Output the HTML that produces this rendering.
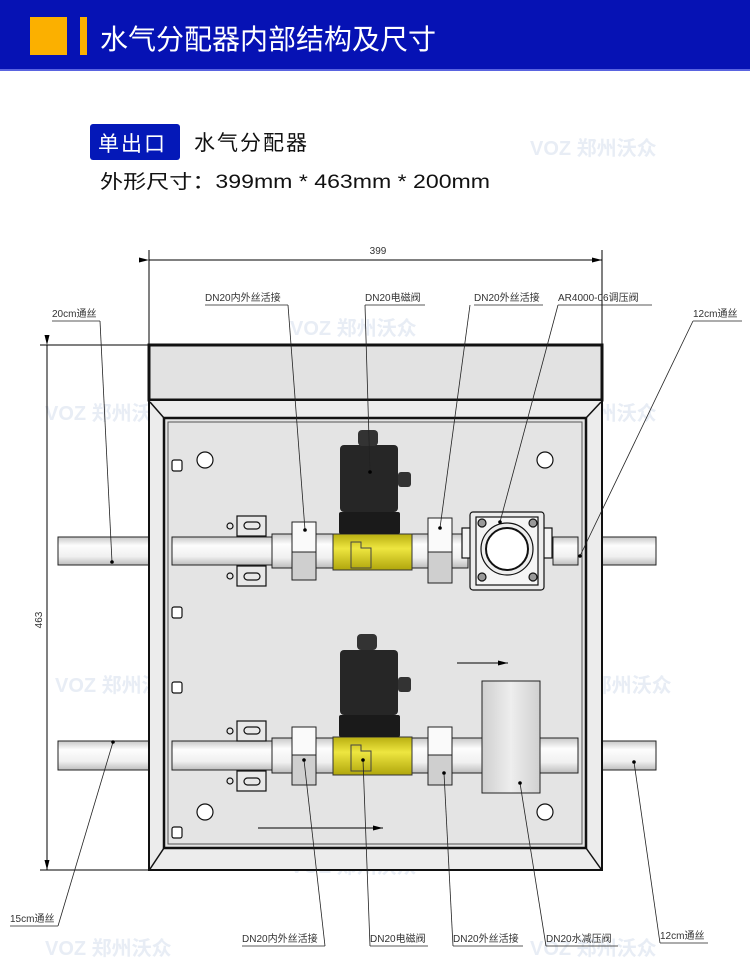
<!DOCTYPE html>
<html><head><meta charset="utf-8"><style>
html,body{margin:0;padding:0;background:#fff;width:750px;height:974px;overflow:hidden}
svg{display:block}
text{font-family:"Liberation Sans","Noto Sans CJK SC",sans-serif}
.lb{font-size:10px;fill:#333}
</style></head><body>
<svg width="750" height="974" viewBox="0 0 750 974" xmlns="http://www.w3.org/2000/svg">
<defs>
<linearGradient id="pipe" x1="0" y1="0" x2="0" y2="1"><stop offset="0" stop-color="#c8c8c8"/><stop offset="0.3" stop-color="#fdfdfd"/><stop offset="0.7" stop-color="#f0f0f0"/><stop offset="1" stop-color="#bdbdbd"/></linearGradient>
<linearGradient id="brass" x1="0" y1="0" x2="0" y2="1"><stop offset="0" stop-color="#b8ae10"/><stop offset="0.4" stop-color="#eee640"/><stop offset="1" stop-color="#b0a60c"/></linearGradient>
<linearGradient id="tee" x1="0" y1="0" x2="1" y2="0"><stop offset="0" stop-color="#cfcfcf"/><stop offset="0.5" stop-color="#eeeeee"/><stop offset="1" stop-color="#d0d0d0"/></linearGradient>
<marker id="ar" markerWidth="10" markerHeight="6" refX="10" refY="3" orient="auto"><path d="M0,0.5 L10,3 L0,5.5z" fill="#000"/></marker>
</defs>
<!-- header -->
<rect x="0" y="0" width="750" height="70" fill="#0612b4"/>
<rect x="0" y="69" width="750" height="2" fill="#5a64e0"/>
<rect x="30" y="17" width="37" height="38" fill="#fbb000"/>
<rect x="80" y="17" width="7" height="38" fill="#fbb000"/>
<text x="100" y="49" font-size="28" fill="#fff">水气分配器内部结构及尺寸</text>
<!-- watermarks -->
<g fill="#e8edf5" font-size="20" font-weight="bold">
<text x="530" y="155">VOZ 郑州沃众</text>
<text x="290" y="335">VOZ 郑州沃众</text><text x="45" y="420">VOZ 郑州沃众</text><text x="530" y="420">VOZ 郑州沃众</text>
<text x="55" y="692">VOZ 郑州沃众</text><text x="545" y="692">VOZ 郑州沃众</text>
<text x="290" y="873">VOZ 郑州沃众</text><text x="45" y="955">VOZ 郑州沃众</text><text x="530" y="955">VOZ 郑州沃众</text>
</g>
<!-- subtitle -->
<rect x="90" y="124" width="90" height="36" rx="3" fill="#0418b8"/>
<text x="98" y="151" font-size="21" fill="#fff" letter-spacing="2">单出口</text>
<text x="194" y="150" font-size="21" fill="#111" letter-spacing="2">水气分配器</text>
<text x="100" y="188" font-size="19" fill="#111" textLength="390" lengthAdjust="spacingAndGlyphs">外形尺寸：399mm * 463mm * 200mm</text>
<!-- dimensions -->
<g stroke="#000" stroke-width="1" fill="none">
<line x1="149" y1="250" x2="149" y2="345"/><line x1="602" y1="250" x2="602" y2="345"/>
<line x1="149" y1="260" x2="602" y2="260" marker-start="url(#ar)" marker-end="url(#ar)"/>
<line x1="40" y1="345" x2="149" y2="345"/><line x1="40" y1="870" x2="149" y2="870"/>
<line x1="47" y1="345" x2="47" y2="870" marker-start="url(#ar)" marker-end="url(#ar)"/>
</g>
<text x="378" y="254" font-size="10" fill="#333" text-anchor="middle">399</text>
<text x="42" y="620" font-size="10" fill="#333" text-anchor="middle" transform="rotate(-90 42 620)">463</text>
<!-- outside pipes -->
<g stroke="#222" stroke-width="1" fill="url(#pipe)">
<rect x="58" y="537" width="92" height="28"/><rect x="600" y="537" width="56" height="28"/>
<rect x="58" y="741" width="92" height="29"/><rect x="600" y="741" width="56" height="29"/>
</g>
<!-- box -->
<rect x="149" y="345" width="453" height="55" fill="#e2e2e2" stroke="#111" stroke-width="3"/>
<rect x="149" y="400" width="453" height="470" fill="#ececec" stroke="#111" stroke-width="2"/>
<rect x="164" y="418" width="422" height="430" fill="#e4e4e4" stroke="#111" stroke-width="2.5"/>
<rect x="168" y="422" width="414" height="422" fill="none" stroke="#555" stroke-width="1"/>
<g stroke="#111" stroke-width="1.5"><line x1="150" y1="402" x2="164" y2="418"/><line x1="601" y1="402" x2="586" y2="418"/><line x1="150" y1="869" x2="164" y2="848"/><line x1="601" y1="869" x2="586" y2="848"/></g>
<!-- holes -->
<g fill="#fff" stroke="#111" stroke-width="1.2"><circle cx="205" cy="460" r="8"/><circle cx="545" cy="460" r="8"/><circle cx="205" cy="812" r="8"/><circle cx="545" cy="812" r="8"/></g>
<!-- small tabs -->
<g fill="#fff" stroke="#111" stroke-width="1.2">
<rect x="172" y="460" width="10" height="11" rx="2"/><rect x="172" y="607" width="10" height="11" rx="2"/><rect x="172" y="682" width="10" height="11" rx="2"/><rect x="172" y="827" width="10" height="11" rx="2"/>
</g>
<!-- inner pipes -->
<g stroke="#222" stroke-width="1" fill="url(#pipe)">
<rect x="172" y="537" width="100" height="28"/><rect x="272" y="534" width="65" height="34"/><rect x="412" y="534" width="56" height="34"/><rect x="553" y="537" width="25" height="28"/>
<rect x="172" y="741" width="100" height="29"/><rect x="272" y="738" width="65" height="35"/><rect x="412" y="738" width="70" height="35"/><rect x="540" y="738" width="38" height="35"/>
</g>
<!-- clamps -->
<g fill="#e8e8e8" stroke="#111" stroke-width="1.2">
<rect x="237" y="516" width="29" height="20"/><rect x="237" y="566" width="29" height="20"/>
<rect x="237" y="721" width="29" height="20"/><rect x="237" y="771" width="29" height="20"/>
<rect x="244" y="522" width="16" height="7" rx="3.5"/><rect x="244" y="573" width="16" height="7" rx="3.5"/>
<rect x="244" y="727" width="16" height="7" rx="3.5"/><rect x="244" y="778" width="16" height="7" rx="3.5"/>
<circle cx="230" cy="526" r="3"/><circle cx="230" cy="576" r="3"/><circle cx="230" cy="731" r="3"/><circle cx="230" cy="781" r="3"/>
</g>
<!-- unions -->
<g stroke="#222" stroke-width="1">
<rect x="292" y="522" width="24" height="30" fill="#fafafa"/><rect x="292" y="552" width="24" height="28" fill="#cfcfcf"/>
<rect x="428" y="518" width="24" height="34" fill="#fafafa"/><rect x="428" y="552" width="24" height="31" fill="#cfcfcf"/>
<rect x="292" y="727" width="24" height="28" fill="#fafafa"/><rect x="292" y="755" width="24" height="30" fill="#cfcfcf"/>
<rect x="428" y="727" width="24" height="28" fill="#fafafa"/><rect x="428" y="755" width="24" height="30" fill="#cfcfcf"/>
</g>
<!-- valves -->
<g>
<rect x="333" y="534" width="79" height="36" fill="url(#brass)" stroke="#333"/>
<path d="M351,542 h10 v6 h10 v20 h-20z" fill="none" stroke="#444"/>
<rect x="339" y="512" width="61" height="22" fill="#1a1a1a" rx="2"/>
<rect x="340" y="445" width="58" height="67" fill="#262626" rx="4"/>
<rect x="358" y="430" width="20" height="16" fill="#333" rx="4"/>
<rect x="398" y="472" width="13" height="15" fill="#333" rx="3"/>
</g>
<g>
<rect x="333" y="737" width="79" height="38" fill="url(#brass)" stroke="#333"/>
<path d="M351,745 h10 v6 h10 v20 h-20z" fill="none" stroke="#444"/>
<rect x="339" y="715" width="61" height="22" fill="#1a1a1a" rx="2"/>
<rect x="340" y="650" width="58" height="65" fill="#262626" rx="4"/>
<rect x="357" y="634" width="20" height="16" fill="#333" rx="4"/>
<rect x="398" y="677" width="13" height="15" fill="#333" rx="3"/>
</g>
<!-- regulator -->
<g stroke="#111" stroke-width="1.2">
<rect x="462" y="528" width="10" height="30" fill="#f3f3f3"/><rect x="541" y="528" width="11" height="30" fill="#f3f3f3"/>
<rect x="470" y="512" width="74" height="78" fill="#ececec" rx="3"/>
<rect x="476" y="517" width="62" height="68" fill="#f5f5f5"/>
<circle cx="507" cy="549" r="26" fill="#eee"/><circle cx="507" cy="549" r="21" fill="#fff" stroke-width="2"/>
<g fill="#999"><circle cx="482" cy="523" r="4"/><circle cx="533" cy="523" r="4"/><circle cx="482" cy="577" r="4"/><circle cx="533" cy="577" r="4"/></g>
</g>
<!-- tee -->
<rect x="482" y="681" width="58" height="112" fill="url(#tee)" stroke="#222"/>
<!-- flow arrows -->
<line x1="457" y1="663" x2="508" y2="663" stroke="#000" marker-end="url(#ar)"/>
<line x1="258" y1="828" x2="383" y2="828" stroke="#000" marker-end="url(#ar)"/>
<!-- labels -->
<g class="lb">
<text x="205" y="301">DN20内外丝活接</text><text x="365" y="301">DN20电磁阀</text><text x="474" y="301">DN20外丝活接</text><text x="558" y="301">AR4000-06调压阀</text>
<text x="52" y="317">20cm通丝</text><text x="693" y="317">12cm通丝</text>
<text x="10" y="922">15cm通丝</text><text x="242" y="942">DN20内外丝活接</text><text x="370" y="942">DN20电磁阀</text><text x="453" y="942">DN20外丝活接</text><text x="546" y="942">DN20水减压阀</text><text x="660" y="939">12cm通丝</text>
</g>
<g stroke="#222" stroke-width="0.8" fill="none">
<line x1="205" y1="305" x2="288" y2="305"/><line x1="365" y1="305" x2="425" y2="305"/><line x1="474" y1="305" x2="543" y2="305"/><line x1="558" y1="305" x2="652" y2="305"/>
<line x1="52" y1="321" x2="100" y2="321"/><line x1="693" y1="321" x2="742" y2="321"/>
<line x1="10" y1="926" x2="58" y2="926"/><line x1="242" y1="946" x2="325" y2="946"/><line x1="370" y1="946" x2="428" y2="946"/><line x1="453" y1="946" x2="523" y2="946"/><line x1="546" y1="946" x2="618" y2="946"/><line x1="660" y1="943" x2="708" y2="943"/>
<line x1="288" y1="305" x2="305" y2="530"/><line x1="365" y1="305" x2="370" y2="472"/><line x1="470" y1="305" x2="440" y2="528"/><line x1="558" y1="305" x2="500" y2="522"/><line x1="693" y1="321" x2="580" y2="556"/><line x1="100" y1="321" x2="112" y2="562"/>
<line x1="58" y1="926" x2="113" y2="742"/><line x1="325" y1="946" x2="304" y2="760"/><line x1="370" y1="946" x2="363" y2="760"/><line x1="453" y1="946" x2="444" y2="773"/><line x1="546" y1="946" x2="520" y2="783"/><line x1="660" y1="943" x2="634" y2="762"/>
</g>
<g fill="#000"><circle cx="305" cy="530" r="1.8"/><circle cx="370" cy="472" r="1.8"/><circle cx="440" cy="528" r="1.8"/><circle cx="500" cy="522" r="1.8"/><circle cx="580" cy="556" r="1.8"/><circle cx="112" cy="562" r="1.8"/><circle cx="113" cy="742" r="1.8"/><circle cx="304" cy="760" r="1.8"/><circle cx="363" cy="760" r="1.8"/><circle cx="444" cy="773" r="1.8"/><circle cx="520" cy="783" r="1.8"/><circle cx="634" cy="762" r="1.8"/></g>
</svg>
</body></html>
